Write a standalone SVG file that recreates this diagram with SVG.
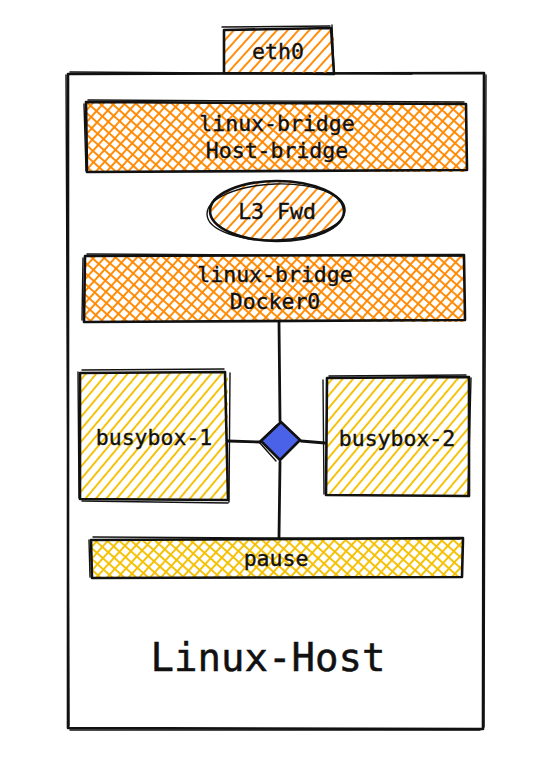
<svg xmlns="http://www.w3.org/2000/svg" width="558" height="766" viewBox="0 0 558 766">
<defs>
<pattern id="hO" patternUnits="userSpaceOnUse" width="8" height="8" patternTransform="rotate(42)">
<line x1="2" y1="0" x2="2" y2="8" stroke="#ff8800" stroke-width="1.9"/>
</pattern>
<pattern id="xO" patternUnits="userSpaceOnUse" width="8" height="8" patternTransform="rotate(42)">
<line x1="2" y1="0" x2="2" y2="8" stroke="#ff8800" stroke-width="1.9"/>
<line x1="0" y1="2" x2="8" y2="2" stroke="#ff8800" stroke-width="1.9"/>
</pattern>
<pattern id="hY" patternUnits="userSpaceOnUse" width="8" height="8" patternTransform="rotate(40)">
<line x1="2" y1="0" x2="2" y2="8" stroke="#f5c000" stroke-width="1.9"/>
</pattern>
<pattern id="xY" patternUnits="userSpaceOnUse" width="8" height="8" patternTransform="rotate(42)">
<line x1="2" y1="0" x2="2" y2="8" stroke="#f5c000" stroke-width="1.9"/>
<line x1="0" y1="2" x2="8" y2="2" stroke="#f5c000" stroke-width="1.9"/>
</pattern>
</defs>
<style>
.o{fill:none;stroke:#111;stroke-width:2.6;stroke-linejoin:round;stroke-linecap:round}
.o2{fill:none;stroke:#111;stroke-width:1.4;stroke-linecap:round}
.t{font-family:"DejaVu Sans Mono","Liberation Mono",monospace;font-size:21.5px;fill:#111;stroke:#111;stroke-width:0.35;text-anchor:middle;dominant-baseline:central}
.big{font-size:39px;stroke-width:0.5}
.c{stroke:#111;stroke-width:2.8;fill:none;stroke-linecap:round}
</style>
<rect width="558" height="766" fill="#fff"/>

<g id="linux-host">
<path class="o" d="M68 74 L484 73 L483 729 L68 728 Z"/>
<path class="o2" d="M70 72 L412 74 M486 75 L484 727 M66 75 L69 726 M70 730 L480 730"/>
<text class="t big" x="268" y="657">Linux-Host</text>
</g>

<g id="eth0">
<rect x="224" y="29" width="110" height="45" fill="url(#hO)"/>
<path class="o" d="M224 30 L331 28 L334 74 L224 73 Z"/>
<path class="o2" d="M222 27 L330 26 M332 25 L334 72"/>
<text class="t" x="278" y="51">eth0</text>
</g>

<g id="host-bridge">
<rect x="86" y="102" width="381" height="70" fill="url(#xO)"/>
<path class="o" d="M86 102 L466 104 L467 170 L87 172 Z"/>
<path class="o2" d="M88 100 L464 102 M84 104 L86 171"/>
<text class="t" x="277" y="123">linux-bridge</text>
<text class="t" x="277" y="150">Host-bridge</text>
</g>

<g id="l3-fwd">
<ellipse cx="277" cy="211" rx="67" ry="30" fill="url(#hO)"/>
<ellipse class="o" cx="277" cy="211" rx="67" ry="30"/>
<ellipse class="o2" cx="276" cy="212" rx="69" ry="28" transform="rotate(-2 276 212)"/>
<text class="t" x="277" y="211">L3 Fwd</text>
</g>

<g id="docker0">
<rect x="84" y="255" width="381" height="67" fill="url(#xO)"/>
<path class="o" d="M85 256 L464 255 L465 320 L84 322 Z"/>
<path class="o2" d="M87 254 L462 256 M83 258 L82 320"/>
<text class="t" x="275" y="274">linux-bridge</text>
<text class="t" x="275" y="301">Docker0</text>
</g>

<g id="busybox-1">
<rect x="80" y="373" width="148" height="126" fill="url(#hY)"/>
<path class="o" d="M80 373 L225 372 L228 500 L80 499 Z"/>
<path class="o2" d="M82 370 L224 369 M230 373 L229 502 M78 372 L79 498 M82 501 L228 503"/>
<text class="t" x="154" y="437">busybox-1</text>
</g>

<g id="busybox-2">
<rect x="326" y="378" width="144" height="118" fill="url(#hY)"/>
<path class="o" d="M327 378 L469 377 L469 496 L326 495 Z"/>
<path class="o2" d="M329 376 L466 375 M471 378 L468 495 M323 380 L324 494"/>
<text class="t" x="397" y="438">busybox-2</text>
</g>

<g id="pause">
<rect x="90" y="539" width="373" height="39" fill="url(#xY)"/>
<path class="o" d="M91 540 L463 538 L462 577 L92 578 Z"/>
<path class="o2" d="M93 537 L460 539 M89 540 L90 577"/>
<text class="t" x="276" y="558">pause</text>
</g>

<g id="connectors">
<path class="c" d="M279 322 L280 421"/>
<path class="c" d="M280 462 L279 538"/>
<path class="c" d="M228 441 L260 442"/>
<path class="c" d="M301 441 L325 443"/>
</g>

<g id="switch">
<path d="M281 422 L300 440 L280 460 L261 441 Z" fill="#4a62e8"/>
<path class="o" d="M281 422 L300 440 L280 460 L261 441 Z" stroke-width="2.8"/>
<path class="o2" d="M277 425 L259 442 L276 461"/>
</g>
</svg>
